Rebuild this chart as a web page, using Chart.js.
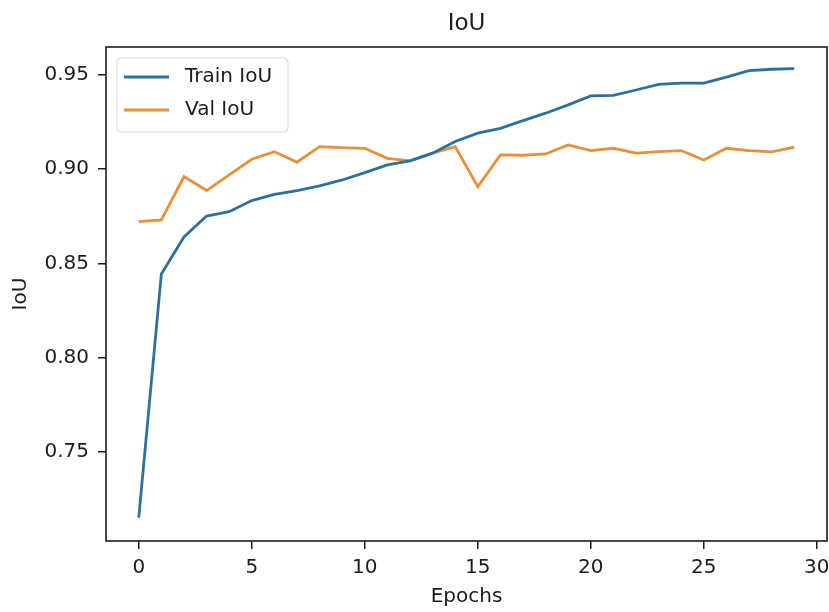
<!DOCTYPE html>
<html>
<head>
<meta charset="utf-8">
<script src="https://cdn.jsdelivr.net/npm/chart.js@4/dist/chart.umd.min.js"></script>
<style>
    html, body { margin: 0; padding: 0; background: #fff; }
    #wrap { width: 829px; height: 612px; }
</style>
</head>
<body>
<div id="wrap"><canvas id="chart-iou" width="829" height="612"></canvas></div>
<script>
// Values
const epochs = [0, 1, 2, 3, 4, 5, 6, 7, 8, 9, 10, 11, 12, 13, 14, 15, 16, 17, 18, 19, 20, 21, 22, 23, 24, 25, 26, 27, 28, 29];
const trainIoU = [0.7153, 0.8445, 0.8641, 0.8752, 0.8775, 0.8834, 0.8867, 0.8887, 0.8912, 0.8943,
                  0.8982, 0.9023, 0.9044, 0.9085, 0.9147, 0.9191, 0.9217, 0.9258, 0.9297, 0.9341,
                  0.9389, 0.9392, 0.9420, 0.9450, 0.9456, 0.9456, 0.9488, 0.9523, 0.9530, 0.9533];
const valIoU = [0.8722, 0.8731, 0.8961, 0.8887, 0.8970, 0.9053, 0.9093, 0.9038, 0.9120, 0.9114,
                0.9111, 0.9058, 0.9044, 0.9085, 0.9120, 0.8908, 0.9076, 0.9074, 0.9081, 0.9129,
                0.9099, 0.9111, 0.9085, 0.9093, 0.9099, 0.9049, 0.9111, 0.9099, 0.9092, 0.9117];
const seriesLabels = ['Train IoU', 'Val IoU'];
const chartTitle = 'IoU';
const xTickStep = 5;
const yTickStep = 0.05;

const FONT = 'DejaVu Sans';
const INK = '#1c1c1c';

// frame around the plot area + title centred over it (matplotlib style)
const framePlugin = {
    id: 'frame',
    afterDatasetsDraw: (chart) => {
        const a = chart.chartArea;
        const ctx = chart.ctx;
        ctx.save();
        ctx.lineWidth = 1.6;
        ctx.strokeStyle = INK;
        ctx.strokeRect(a.left, a.top, a.right - a.left, a.bottom - a.top);

        ctx.fillStyle = INK;
        ctx.font = '23px "' + FONT + '"';
        ctx.textAlign = 'center';
        ctx.textBaseline = 'middle';
        ctx.fillText(chartTitle, (a.left + a.right) / 2, a.top - 23);
        ctx.restore();
    }
};

// legend box in the upper left of the plot area
const boxLegendPlugin = {
    id: 'boxLegend',
    afterDraw: (chart) => {
        const a = chart.chartArea;
        const ctx = chart.ctx;
        const x = a.left + 11, y = a.top + 11;
        const w = 171, h = 74;
        ctx.save();
        ctx.beginPath();
        ctx.roundRect(x, y, w, h, 4);
        ctx.fillStyle = 'rgba(255,255,255,0.85)';
        ctx.fill();
        ctx.lineWidth = 1;
        ctx.strokeStyle = '#d6d6d6';
        ctx.stroke();

        ctx.font = '20px "' + FONT + '"';
        ctx.textBaseline = 'middle';
        chart.data.datasets.forEach((ds, i) => {
            const rowY = y + 19 + i * 33;
            ctx.beginPath();
            ctx.moveTo(x + 7, rowY);
            ctx.lineTo(x + 52, rowY);
            ctx.lineWidth = 2.8;
            ctx.strokeStyle = ds.borderColor;
            ctx.stroke();
            ctx.fillStyle = INK;
            ctx.fillText(ds.label, x + 68, rowY);
        });
        ctx.restore();
    }
};

const toPoints = (values) => values.map((v, i) => ({ x: epochs[i], y: v }));

new Chart(document.getElementById('chart-iou'), {
    type: 'line',
    data: {
        datasets: [
            {
                label: seriesLabels[0],
                data: toPoints(trainIoU),
                borderColor: '#2c709e',
                backgroundColor: '#2c709e'
            },
            {
                label: seriesLabels[1],
                data: toPoints(valIoU),
                borderColor: '#e98f38',
                backgroundColor: '#e98f38'
            }
        ]
    },
    options: {
        responsive: false,
        animation: false,
        layout: { padding: { left: 0, right: 2, top: 47, bottom: 0 } },
        elements: {
            point: { radius: 0 },
            line: { borderWidth: 2.8, tension: 0 }
        },
        plugins: {
            legend: { display: false },
            tooltip: { enabled: false },
            title: { display: false }
        },
        scales: {
            x: {
                type: 'linear',
                min: -1.45,
                max: 30.45,
                border: { display: false },
                grid: { drawOnChartArea: false, tickLength: 8, color: INK, lineWidth: 1.5 },
                ticks: {
                    stepSize: xTickStep,
                    includeBounds: false,
                    padding: 7,
                    color: INK,
                    font: { family: FONT, size: 20 },
                    maxRotation: 0
                },
                title: {
                    display: true,
                    text: 'Epochs',
                    color: INK,
                    font: { family: FONT, size: 20 },
                    padding: { top: 0, bottom: 3 }
                },
                afterFit: (scale) => {
                    scale.height = 71;
                    scale.paddingLeft = 0;
                    scale.paddingRight = 0;
                }
            },
            y: {
                min: 0.7029,
                max: 0.9648,
                border: { display: false },
                grid: { drawOnChartArea: false, tickLength: 8, color: INK, lineWidth: 1.5 },
                ticks: {
                    stepSize: yTickStep,
                    includeBounds: false,
                    padding: 9,
                    color: INK,
                    font: { family: FONT, size: 20 },
                    callback: (v) => v.toFixed(2)
                },
                title: {
                    display: true,
                    text: 'IoU',
                    color: INK,
                    font: { family: FONT, size: 20 },
                    padding: { top: 9, bottom: 0 }
                },
                afterFit: (scale) => {
                    scale.width = 106;
                    scale.paddingTop = 0;
                    scale.paddingBottom = 0;
                }
            }
        }
    },
    plugins: [framePlugin, boxLegendPlugin]
});
</script>
</body>
</html>
